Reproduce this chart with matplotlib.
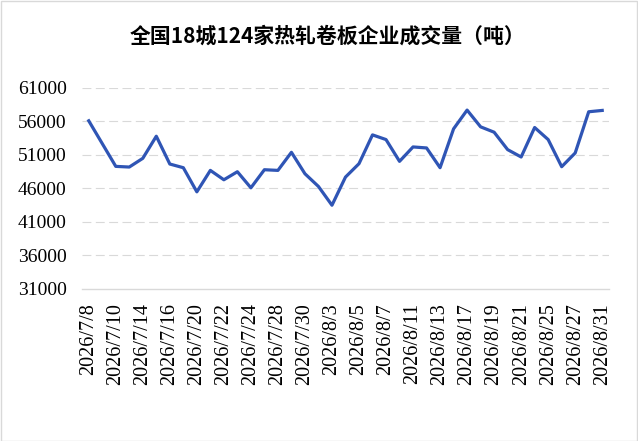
import numpy as np
import matplotlib.pyplot as plt
import matplotlib.patches as patches

# business days, 2026-07-08 .. 2026-08-31
dates = ['2026/7/8', '2026/7/9', '2026/7/10', '2026/7/13', '2026/7/14', '2026/7/15',
         '2026/7/16', '2026/7/17', '2026/7/20', '2026/7/21', '2026/7/22', '2026/7/23',
         '2026/7/24', '2026/7/27', '2026/7/28', '2026/7/29', '2026/7/30', '2026/7/31',
         '2026/8/3', '2026/8/4', '2026/8/5', '2026/8/6', '2026/8/7', '2026/8/10',
         '2026/8/11', '2026/8/12', '2026/8/13', '2026/8/14', '2026/8/17', '2026/8/18',
         '2026/8/19', '2026/8/20', '2026/8/21', '2026/8/24', '2026/8/25', '2026/8/26',
         '2026/8/27', '2026/8/28', '2026/8/31']
volume = [56100, 52700, 49300, 49200, 50500, 53800, 49650, 49100, 45500, 48700,
          47300, 48500, 46100, 48800, 48700, 51400, 48200, 46300, 43500, 47700,
          49700, 54000, 53300, 50050, 52200, 52050, 49100, 54900, 57700, 55200,
          54400, 51800, 50700, 55100, 53300, 49250, 51300, 57450, 57650]
yticks = [31000, 36000, 41000, 46000, 51000, 56000, 61000]

title = '全国18城124家热轧卷板企业成交量（吨）'

fig = plt.figure(figsize=(6.38, 4.41), dpi=100)
ax = fig.add_axes([0.1285, 0.3447, 0.826, 0.4558])

x = np.arange(len(dates))
ax.plot(x, volume, color='#2F55B5', linewidth=2.3, solid_joinstyle='round', zorder=3)

ax.set_xlim(-0.5, len(dates) - 0.5)
ax.set_ylim(31000, 61000)
ax.set_yticks(yticks)
ax.set_yticklabels([str(v) for v in yticks], fontfamily='Liberation Serif', fontsize=14)
ax.set_xticks(x[::2])
ax.set_xticklabels(dates[::2], rotation=90, fontfamily='Liberation Serif', fontsize=14.5)
ax.tick_params(axis='y', length=0, pad=11)
ax.tick_params(axis='x', length=0, pad=10)

for sp in ['top', 'right', 'left']:
    ax.spines[sp].set_visible(False)
ax.spines['bottom'].set_color('#D9D9D9')
ax.spines['bottom'].set_linewidth(1.0)

for v in yticks[1:]:
    ax.axhline(v, color='#D9D9D9', linewidth=0.8, linestyle=(0, (8, 4)), zorder=1)

fig.text(328 / 638, 1 - 36 / 441, title, ha='center', va='center',
         fontfamily=['Noto Sans CJK SC', 'DejaVu Sans'], fontweight='bold', fontsize=15)

# light frame round the chart
fig.patches.append(patches.Rectangle((0.001, 0.001), 0.997, 0.997, transform=fig.transFigure,
                                     fill=False, edgecolor='#D9D9D9', linewidth=1.0))

fig.savefig('out.png', dpi=100)
